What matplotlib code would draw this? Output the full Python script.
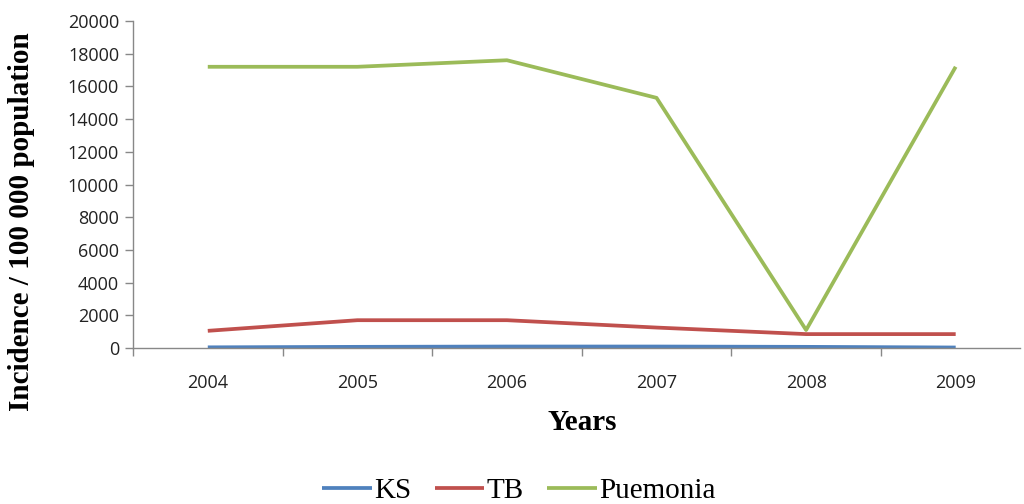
import matplotlib
matplotlib.use("Agg")
import matplotlib.pyplot as plt
from matplotlib.ticker import FixedLocator

years = ["2004", "2005", "2006", "2007", "2008", "2009"]
ks = [40, 70, 90, 90, 70, 30]
tb = [1050, 1700, 1700, 1250, 850, 850]
pneumonia = [17200, 17200, 17600, 15300, 1100, 17200]
series_names = ["KS", "TB", "Puemonia"]
colors = ["#4F81BD", "#C0504D", "#9BBB59"]
yticks = list(range(0, 20001, 2000))

fig = plt.figure(figsize=(10.24, 5.04), dpi=100)
ax = fig.add_axes([133/1024, 1-348/504, (1020-133)/1024, (348-21)/504])

x = list(range(len(years)))
for vals, name, c in zip([ks, tb, pneumonia], series_names, colors):
    ax.plot(x, vals, color=c, lw=2.7, label=name, solid_capstyle="butt")

ax.set_xlim(-0.5, 5.43)
ax.set_ylim(0, 20000)
ax.set_yticks(yticks)
ax.set_yticklabels([str(v) for v in yticks], fontfamily="Open Sans", fontsize=13, color="#222222")
ax.set_xticks(x)
ax.set_xticklabels(years, fontfamily="Open Sans", fontsize=13, color="#222222")
ax.xaxis.set_minor_locator(FixedLocator([i - 0.5 for i in range(7)]))
ax.tick_params(axis="x", which="major", length=0, pad=19)
ax.tick_params(axis="x", which="minor", length=6, color="#888888", width=1)
ax.tick_params(axis="y", length=6, color="#888888", width=1, pad=4)

for s in ["top", "right"]:
    ax.spines[s].set_visible(False)
for s in ["left", "bottom"]:
    ax.spines[s].set_color("#888888")
    ax.spines[s].set_linewidth(1)

fig.text(22/1024, 1-222/504, "Incidence / 100 000 population", rotation=90,
         ha="center", va="center", fontfamily="Liberation Serif", fontweight="bold", fontsize=21)
fig.text(582/1024, 1-423/504, "Years", ha="center", va="center",
         fontfamily="Liberation Serif", fontweight="bold", fontsize=21)

fig.legend(loc="center", bbox_to_anchor=(519/1024, 1-491/504), ncol=3, frameon=False,
           prop={"family": "Liberation Serif", "size": 21}, handlelength=1.7,
           handletextpad=0.08, columnspacing=0.8, borderpad=0)

fig.savefig("out.png", dpi=100)
